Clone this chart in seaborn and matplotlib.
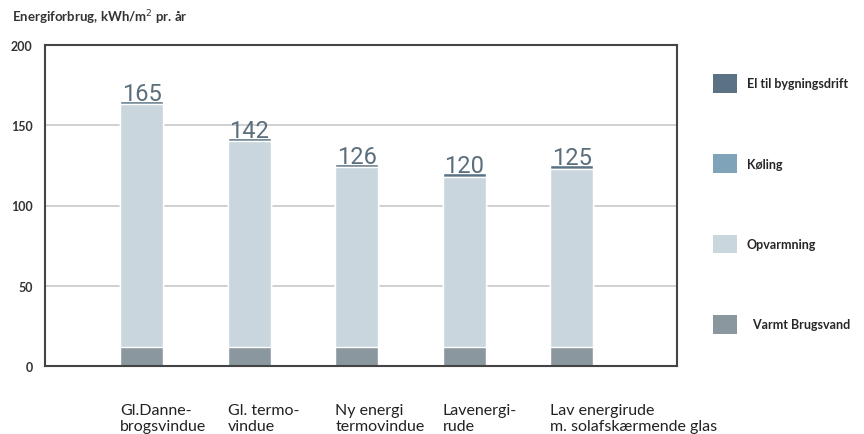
import matplotlib
matplotlib.use("Agg")
import matplotlib.pyplot as plt
import matplotlib.transforms as mtransforms
from matplotlib.patches import Patch
import seaborn as sns
import pandas as pd
import numpy as np

# ---- data ----
categories = ["Gl.Danne-\nbrogsvindue", "Gl. termo-\nvindue", "Ny energi\ntermovindue",
              "Lavenergi-\nrude", "Lav energirude\nm. solafskærmende glas"]
totals = [165, 142, 126, 120, 125]
varmt_brugsvand = [12, 12, 12, 12, 12]
el_bygningsdrift = [2, 2, 2, 2, 2]
koeling = [0, 0, 0, 0, 0]
opvarmning = [t - v - e - k for t, v, e, k in zip(totals, varmt_brugsvand, el_bygningsdrift, koeling)]
yticks = [0, 50, 100, 150, 200]
legend_labels = ["El til bygningsdrift", "Køling", "Opvarmning", "  Varmt Brugsvand"]

colors = {
    "el": "#5a7283",
    "kol": "#7fa3b8",
    "opv": "#c9d6dd",
    "vbv": "#8b979f",
}

df = pd.DataFrame({
    "cat": categories,
    "vbv": varmt_brugsvand,
    "opv": opvarmning,
    "kol": koeling,
    "el": el_bygningsdrift,
})
df["top_el"] = df["vbv"] + df["opv"] + df["kol"] + df["el"]
df["top_kol"] = df["vbv"] + df["opv"] + df["kol"]
df["top_opv"] = df["vbv"] + df["opv"]
df["top_vbv"] = df["vbv"]

sns.set_theme(style="white")
plt.rcParams["font.family"] = ["Lato", "DejaVu Sans"]

fig = plt.figure(figsize=(8.64, 4.35), dpi=100)
ax = fig.add_axes([45 / 864, 1 - 367 / 435, (677 - 45) / 864, (367 - 46) / 435])

for col, key in [("top_el", "el"), ("top_kol", "kol"), ("top_opv", "opv"), ("top_vbv", "vbv")]:
    sns.barplot(data=df, x="cat", y=col, color=colors[key], saturation=1, width=0.4,
                edgecolor="white", linewidth=1.0, ax=ax, zorder=3)

ax.set_xlim(-0.9, 4.98)
ax.set_ylim(0, 200)
ax.set_yticks(yticks)
ax.set_yticklabels([str(t) for t in yticks], fontsize=9, fontweight="bold", color="#333333")
ax.tick_params(axis="y", length=0, pad=9)
ax.set_xticks([])
ax.set_xlabel("")
ax.set_ylabel("")

for y in [50, 100, 150]:
    ax.axhline(y, color="#c8c8c8", lw=1.2, zorder=1)

for s in ax.spines.values():
    s.set_visible(True)
    s.set_color("#444444")
    s.set_linewidth(1.5)
    s.set_zorder(5)

# value labels
for i, t in enumerate(totals):
    ax.text(i, t + 0.6, str(t), ha="center", va="baseline", fontsize=17,
            family=["Roboto", "DejaVu Sans"], color="#5b6e7c", zorder=6)

# category labels (left aligned at bar edge)
trans = mtransforms.blended_transform_factory(ax.transData, ax.transAxes)
for i, c in enumerate(categories):
    ax.text(i - 0.2, -0.115, c, transform=trans, ha="left", va="top", fontsize=11.5,
            color="#222222", linespacing=1.15)

# y-axis title
fig.text(12 / 864, 1 - 22 / 435, "Energiforbrug, kWh/m$^2$ pr. år", fontsize=9.5,
         color="#333333", ha="left", va="baseline", fontweight="bold")

# legend
handles = [Patch(facecolor=colors[k], edgecolor="none") for k in ["el", "kol", "opv", "vbv"]]
fig.legend(handles, legend_labels, loc="upper left", bbox_to_anchor=(713 / 864, 1 - 75 / 435),
           frameon=False, handlelength=1.9, handleheight=1.9,
           handletextpad=0.8, labelspacing=4.95, borderpad=0, borderaxespad=0,
           prop={"weight": "bold", "size": 9})

fig.savefig("out.png", dpi=100)
